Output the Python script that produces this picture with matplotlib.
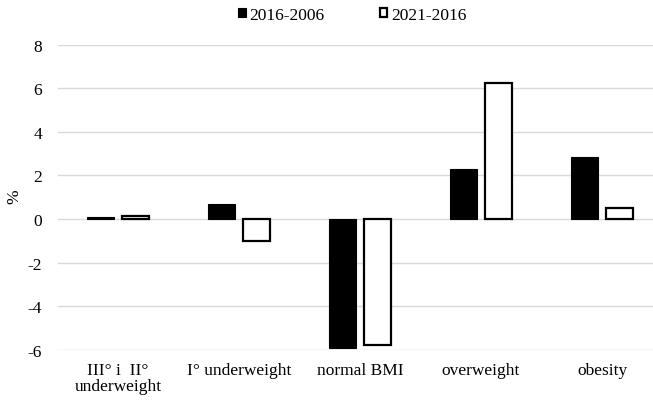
import matplotlib
matplotlib.use("Agg")
import matplotlib.pyplot as plt
import numpy as np

categories = ["III° i  II°\nunderweight", "I° underweight", "normal BMI", "overweight", "obesity"]
series_names = ["2016-2006", "2021-2016"]
s1 = [0.07, 0.69, -5.9, 2.30, 2.86]
s2 = [0.12, -1.02, -5.8, 6.23, 0.49]
yticks = [-6, -4, -2, 0, 2, 4, 6, 8]

plt.rcParams['font.family'] = ['Liberation Serif', 'DejaVu Serif']
plt.rcParams['font.size'] = 12.5

W, H = 653, 402
fig = plt.figure(figsize=(W/100, H/100), dpi=100)
left, right, top, bottom = 57.5, 662.5, 45.6, 350.7
ax = fig.add_axes([left/W, 1-bottom/H, (right-left)/W, (bottom-top)/H])

x = np.arange(len(categories))
w = 0.225
off = 0.143
ax.bar(x - off, s1, w, color='black', edgecolor='black', linewidth=0.8, label=series_names[0], zorder=3)
ax.bar(x + off, s2, w, color='white', edgecolor='black', linewidth=1.6, label=series_names[1], zorder=3)

ax.set_ylim(-6, 8)
ax.set_xlim(-0.5, len(categories) - 0.5)
ax.set_yticks(yticks)
ax.set_yticklabels([str(t) for t in yticks])
ax.set_xticks(x)
ax.set_xticklabels(categories, linespacing=0.95)
ax.tick_params(axis='y', length=0, pad=11)
ax.tick_params(axis='x', length=0, pad=9)
ax.grid(axis='y', color='#d9d9d9', linewidth=1, zorder=0)
for sp in ax.spines.values():
    sp.set_visible(False)
ax.set_ylabel('%')
ax.yaxis.set_label_coords((22-left)/(right-left), (bottom-197)/(bottom-top))

leg = fig.legend(loc='center', bbox_to_anchor=(352/W, 1-16/H), ncol=2, frameon=False,
                 handlelength=0.45, handleheight=0.45, handletextpad=0.2, columnspacing=3.2,
                 borderaxespad=0)

fig.savefig('out.png', dpi=100)
